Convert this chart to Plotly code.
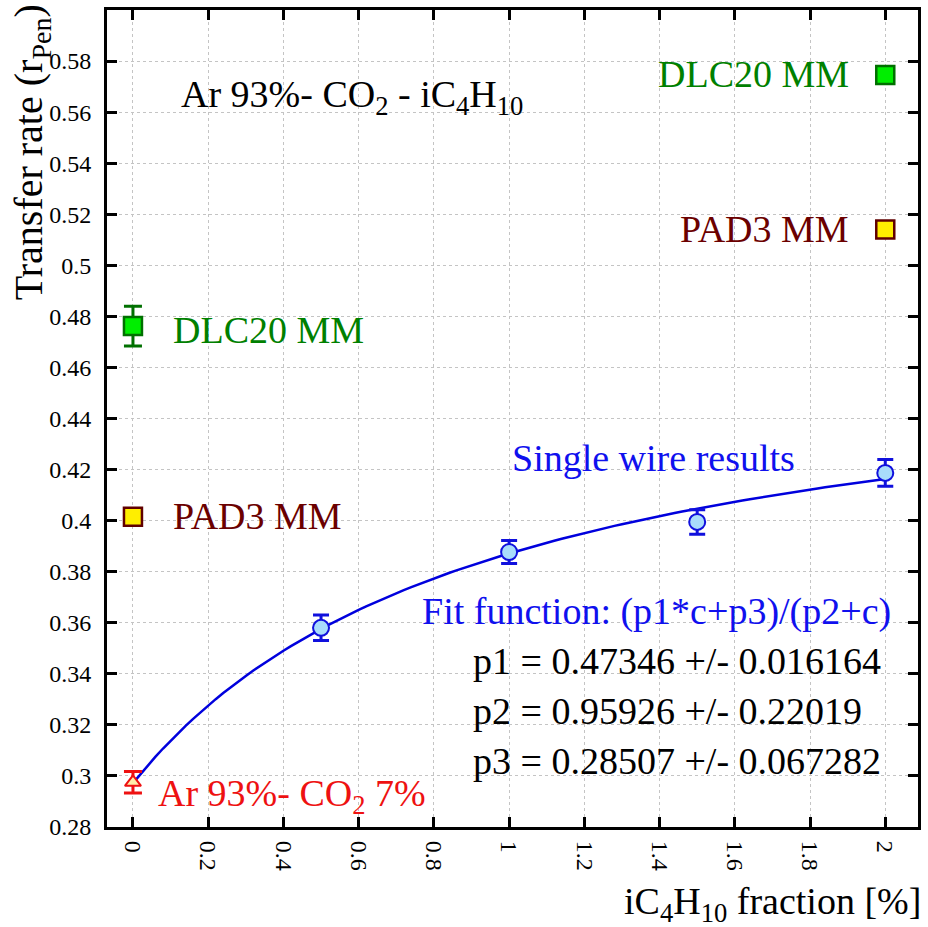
import plotly.graph_objects as go

# ---- data ----
sw_x = [0.5, 1.0, 1.5, 2.0]
sw_y = [0.358, 0.3877, 0.3995, 0.4187]
sw_err = [0.005, 0.0045, 0.0048, 0.0052]

dlc_x = [0.0, 2.0]
dlc_y = [0.4762, 0.5745]
dlc_err = [0.0078, 0.0]

pad_x = [0.0, 2.0]
pad_y = [0.4015, 0.514]
pad_err = [0.0, 0.0]

ar_x = [0.0]
ar_y = [0.2975]
ar_err = [0.0042]

fit_p1, fit_p2, fit_p3 = 0.47346, 0.95926, 0.28507
fit_c = [i * 0.02 for i in range(101)]
fit_y = [(fit_p1 * c + fit_p3) / (fit_p2 + c) for c in fit_c]

y_ticks = [0.28, 0.30, 0.32, 0.34, 0.36, 0.38, 0.40, 0.42, 0.44, 0.46, 0.48,
           0.50, 0.52, 0.54, 0.56, 0.58]
y_labels = ["0.28", "0.3", "0.32", "0.34", "0.36", "0.38", "0.4", "0.42", "0.44",
            "0.46", "0.48", "0.5", "0.52", "0.54", "0.56", "0.58"]
x_ticks = [0, 0.2, 0.4, 0.6, 0.8, 1.0, 1.2, 1.4, 1.6, 1.8, 2.0]
x_labels = ["0", "0.2", "0.4", "0.6", "0.8", "1", "1.2", "1.4", "1.6", "1.8", "2"]

# ---- layout geometry ----
W, H = 928, 927
L, R, T, B = 107, 7, 10, 100
PW, PH = W - L - R, H - T - B


def px(x):
    return (x - L) / PW


def py(y):
    return (H - B - y) / PH


FONT = "Liberation Serif, Times New Roman, DejaVu Serif, serif"
GREEN = "#008000"
MAROON = "#6b0000"
RED = "#ee1111"
BLUE = "#1010ee"

fig = go.Figure()

fig.add_trace(go.Scatter(
    x=fit_c, y=fit_y, mode="lines",
    line=dict(color="#0000dd", width=2.5), hoverinfo="skip"))

fig.add_trace(go.Scatter(
    x=sw_x, y=sw_y, mode="markers",
    marker=dict(symbol="circle", size=16, color="#a9dcfb",
                line=dict(color="#1010dd", width=2)),
    error_y=dict(type="data", array=sw_err, visible=True,
                 color="#1010dd", thickness=3, width=8)))

fig.add_trace(go.Scatter(
    x=dlc_x, y=dlc_y, mode="markers",
    marker=dict(symbol="square", size=18, color="#00ee00",
                line=dict(color="#007000", width=2.5)),
    error_y=dict(type="data", array=dlc_err, visible=True,
                 color="#007000", thickness=3, width=9)))

fig.add_trace(go.Scatter(
    x=pad_x, y=pad_y, mode="markers",
    marker=dict(symbol="square", size=18, color="#ffee00",
                line=dict(color="#600000", width=2.5)),
    error_y=dict(type="data", array=pad_err, visible=False)))

fig.add_trace(go.Scatter(
    x=ar_x, y=ar_y, mode="markers",
    marker=dict(symbol="triangle-up", size=14, color="#ffeeaa",
                line=dict(color="#ee1111", width=2)),
    error_y=dict(type="data", array=ar_err, visible=True,
                 color="#ee1111", thickness=3, width=9)))

axis_common = dict(
    showline=True, linecolor="black", linewidth=3, mirror="ticks",
    ticks="inside", ticklen=10, tickwidth=3, tickcolor="black",
    showgrid=True, gridcolor="#c4c4c4", gridwidth=1, griddash="dot",
    zeroline=False, tickfont=dict(family=FONT, size=24, color="black"),
)

fig.update_xaxes(range=[-0.069, 2.087], tickvals=x_ticks, ticktext=x_labels,
                 tickangle=90, ticklabelstandoff=6, **axis_common)
fig.update_yaxes(range=[0.28, 0.60], tickvals=y_ticks, ticktext=y_labels,
                 ticklabelstandoff=8, **axis_common)

ann = []


def add(text, x, y, color, xanchor="left", yanchor="middle", size=38, angle=0):
    ann.append(dict(text=text, x=px(x), y=py(y), xref="paper", yref="paper",
                    xanchor=xanchor, yanchor=yanchor, showarrow=False,
                    textangle=angle,
                    font=dict(family=FONT, size=size, color=color)))


add("Ar 93%- CO<sub>2</sub> - iC<sub>4</sub>H<sub>10</sub>", 179, 97, "black")
add("DLC20 MM", 854, 74, GREEN, xanchor="right")
add("PAD3 MM", 854, 229, MAROON, xanchor="right")
add("DLC20 MM", 171, 330, GREEN)
add("PAD3 MM", 171, 516, MAROON)
add("Ar 93%- CO<sub>2</sub> 7%", 156, 796, RED)
add("Single wire results", 511, 458, BLUE)
add("Fit function: (p1*c+p3)/(p2+c)", 421, 611, BLUE)
add("p1 = 0.47346 +/- 0.016164", 472, 661, "black")
add("p2 = 0.95926 +/- 0.22019", 472, 711, "black")
add("p3 = 0.28507 +/- 0.067282", 472, 761, "black")
add("iC<sub>4</sub>H<sub>10</sub> fraction [%]", 926, 904, "black", xanchor="right")
add("Transfer rate (r<sub>Pen</sub>)", 31, 2, "black", xanchor="center",
    yanchor="top", size=40, angle=-90)

fig.update_layout(
    width=W, height=H,
    margin=dict(l=L, r=R, t=T, b=B),
    paper_bgcolor="white", plot_bgcolor="white",
    showlegend=False, annotations=ann,
    font=dict(family=FONT),
)

fig.write_html("out.html")
